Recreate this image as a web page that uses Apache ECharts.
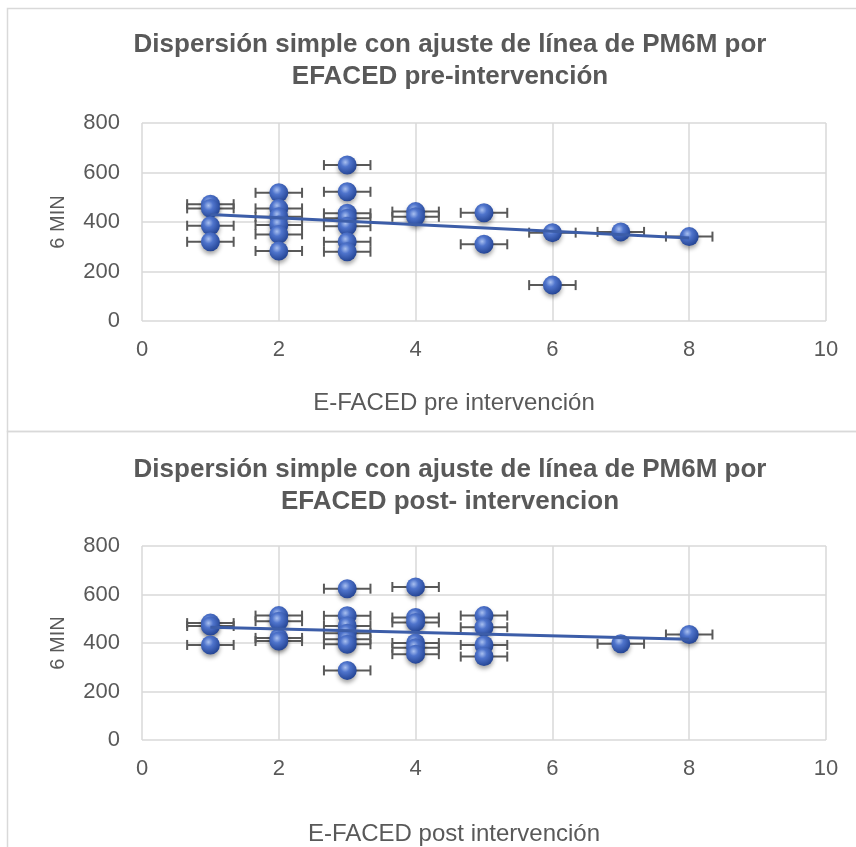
<!DOCTYPE html>
<html>
<head>
<meta charset="utf-8">
<script src="https://cdn.jsdelivr.net/npm/echarts@6/dist/echarts.min.js"></script>
<style>
  html, body { margin: 0; padding: 0; background: #fff; }
  #main { width: 856px; height: 847px; }
</style>
</head>
<body>
<div id="main"></div>
<script>
// pre intervention
var preX = [1, 1, 1, 1, 2, 2, 2, 2, 2, 2, 3, 3, 3, 3, 3, 3, 3, 4, 4, 5, 5, 6, 6, 7, 8];
var preY = [472, 455, 385, 320, 518, 455, 421, 388, 350, 283, 630, 522, 435, 415, 383, 320, 280, 442, 421, 437, 310, 357, 145, 360, 341];
var preTrend = [[1, 430], [8, 335]];

// post intervention
var postX = [1, 1, 1, 2, 2, 2, 2, 3, 3, 3, 3, 3, 3, 3, 4, 4, 4, 4, 4, 4, 5, 5, 5, 5, 7, 8];
var postY = [482, 470, 392, 513, 490, 421, 408, 624, 512, 470, 440, 415, 395, 287, 631, 505, 485, 400, 380, 354, 513, 465, 392, 344, 397, 435];
var postTrend = [[1, 465], [8, 415]];

var errX = 0.34;

var titles = [
    'Dispersión simple con ajuste de línea de PM6M por\nEFACED pre-intervención',
    'Dispersión simple con ajuste de línea de PM6M por\nEFACED post- intervencion'
];
var xNames = ['E-FACED pre intervención', 'E-FACED post intervención'];

function pairs(xs, ys) {
    var out = [];
    for (var i = 0; i < xs.length; i++) out.push([xs[i], ys[i]]);
    return out;
}

var ball = {
    type: 'radial', x: 0.4, y: 0.35, r: 0.7,
    colorStops: [
        {offset: 0, color: '#a9c0f0'},
        {offset: 0.35, color: '#4f74cc'},
        {offset: 1, color: '#20408f'}
    ]
};

function errRender(params, api) {
    var x = api.value(0), y = api.value(1);
    var p1 = api.coord([x - errX, y]);
    var p2 = api.coord([x + errX, y]);
    var st = {stroke: '#595959', lineWidth: 2};
    return {
        type: 'group',
        children: [
            {type: 'line', shape: {x1: p1[0], y1: p1[1], x2: p2[0], y2: p2[1]}, style: st},
            {type: 'line', shape: {x1: p1[0], y1: p1[1] - 5, x2: p1[0], y2: p1[1] + 5}, style: st},
            {type: 'line', shape: {x1: p2[0], y1: p2[1] - 5, x2: p2[0], y2: p2[1] + 5}, style: st}
        ]
    };
}

var myChart = echarts.init(document.getElementById('main'));
var fnt = 'Liberation Sans, Arial, sans-serif';

var xAxes = [], yAxes = [], series = [];
var grids = [
    {left: 142, right: 30, top: 123, height: 198},
    {left: 142, right: 30, top: 546, height: 198}
];
var xGaps = [70, 82];
var sets = [[preX, preY, preTrend], [postX, postY, postTrend]];

for (var k = 0; k < 2; k++) {
    xAxes.push({
        gridIndex: k, type: 'value', min: 0, max: 10, interval: 2,
        name: xNames[k], nameLocation: 'middle', nameGap: xGaps[k],
        nameTextStyle: {fontSize: 24, color: '#595959', fontFamily: fnt, padding: [0, 60, 0, 0]},
        axisLine: {show: false}, axisTick: {show: false},
        axisLabel: {fontSize: 22, color: '#595959', fontFamily: fnt, margin: 18},
        splitLine: {lineStyle: {color: '#d9d9d9', width: 1.5}}
    });
    yAxes.push({
        gridIndex: k, type: 'value', min: 0, max: 800, interval: 200,
        name: '6 MIN', nameLocation: 'middle', nameGap: 74, nameRotate: 90,
        nameTextStyle: {fontSize: 20, color: '#595959', fontFamily: fnt},
        axisLine: {show: false}, axisTick: {show: false},
        axisLabel: {fontSize: 22, color: '#595959', fontFamily: fnt, margin: 22},
        splitLine: {lineStyle: {color: '#d9d9d9', width: 1.5}}
    });
    var pts = pairs(sets[k][0], sets[k][1]);
    series.push({
        type: 'custom', xAxisIndex: k, yAxisIndex: k, z: 2,
        renderItem: errRender, data: pts, silent: true
    });
    series.push({
        type: 'scatter', xAxisIndex: k, yAxisIndex: k, z: 3,
        symbolSize: 19, data: pts,
        itemStyle: {color: ball, opacity: 1, shadowBlur: 4, shadowOffsetY: 3, shadowColor: 'rgba(0,0,0,0.35)'}
    });
    series.push({
        type: 'line', xAxisIndex: k, yAxisIndex: k, z: 4,
        data: sets[k][2], symbol: 'none',
        lineStyle: {color: '#3c5da8', width: 3}
    });
}

var option = {
    backgroundColor: '#fff',
    animation: false,
    title: [
        {text: titles[0], left: 445, top: 24, textAlign: 'center',
         textStyle: {fontSize: 26, fontWeight: 'bold', color: '#595959', fontFamily: fnt, lineHeight: 32}},
        {text: titles[1], left: 445, top: 449, textAlign: 'center',
         textStyle: {fontSize: 26, fontWeight: 'bold', color: '#595959', fontFamily: fnt, lineHeight: 32}}
    ],
    graphic: [
        {type: 'rect', shape: {x: 7.5, y: 8.5, width: 900, height: 423}, style: {fill: 'none', stroke: '#d9d9d9', lineWidth: 1.5}, z: -1},
        {type: 'rect', shape: {x: 7.5, y: 431.5, width: 900, height: 430}, style: {fill: 'none', stroke: '#d9d9d9', lineWidth: 1.5}, z: -1}
    ],
    grid: grids,
    xAxis: xAxes,
    yAxis: yAxes,
    series: series
};

myChart.setOption(option);
</script>
</body>
</html>
